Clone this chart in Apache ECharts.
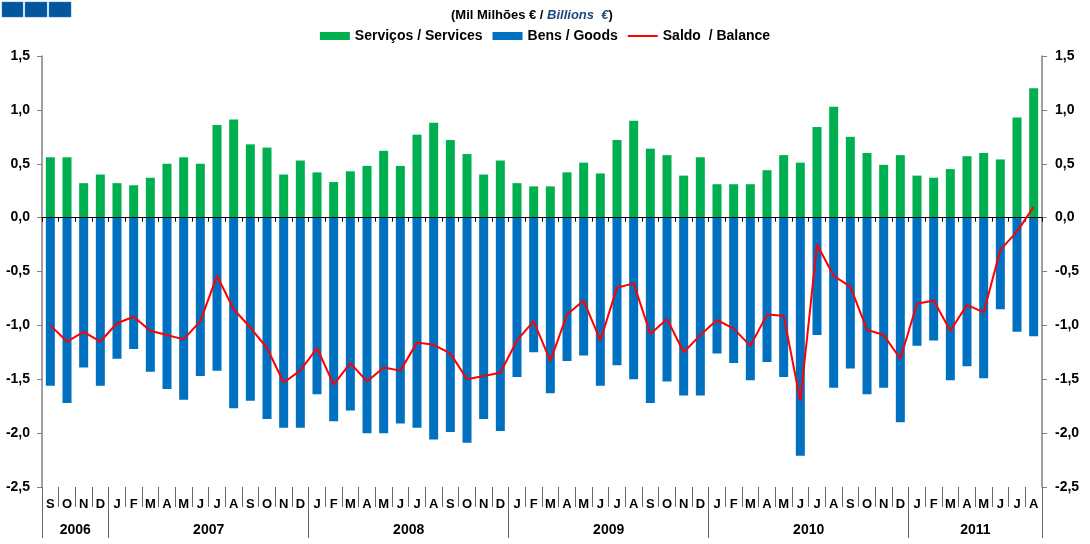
<!DOCTYPE html>
<html>
<head>
<meta charset="utf-8">
<script src="https://cdn.jsdelivr.net/npm/echarts@6/dist/echarts.min.js"></script>
<style>
  html, body { margin: 0; padding: 0; background: #fff; }
  #chart { width: 1090px; height: 544px; }
</style>
</head>
<body>
<div id="chart"></div>
<script>
// ---- Data (Mil Milhões € / Billions €) ----
const months = [
  'S','O','N','D',
  'J','F','M','A','M','J','J','A','S','O','N','D',
  'J','F','M','A','M','J','J','A','S','O','N','D',
  'J','F','M','A','M','J','J','A','S','O','N','D',
  'J','F','M','A','M','J','J','A','S','O','N','D',
  'J','F','M','A','M','J','J','A'
];
const years = [
  '2006','2006','2006','2006',
  '2007','2007','2007','2007','2007','2007','2007','2007','2007','2007','2007','2007',
  '2008','2008','2008','2008','2008','2008','2008','2008','2008','2008','2008','2008',
  '2009','2009','2009','2009','2009','2009','2009','2009','2009','2009','2009','2009',
  '2010','2010','2010','2010','2010','2010','2010','2010','2010','2010','2010','2010',
  '2011','2011','2011','2011','2011','2011','2011','2011'
];
const services = [
  0.56, 0.56, 0.32, 0.40,
  0.32, 0.30, 0.37, 0.50, 0.56, 0.50, 0.86, 0.91, 0.68, 0.65, 0.40, 0.53,
  0.42, 0.33, 0.43, 0.48, 0.62, 0.48, 0.77, 0.88, 0.72, 0.59, 0.40, 0.53,
  0.32, 0.29, 0.29, 0.42, 0.51, 0.41, 0.72, 0.90, 0.64, 0.58, 0.39, 0.56,
  0.31, 0.31, 0.31, 0.44, 0.58, 0.51, 0.84, 1.03, 0.75, 0.60, 0.49, 0.58,
  0.39, 0.37, 0.45, 0.57, 0.60, 0.54, 0.93, 1.20
];
const goods = [
  -1.56, -1.72, -1.39, -1.56,
  -1.31, -1.22, -1.43, -1.59, -1.69, -1.47, -1.42, -1.77, -1.70, -1.87, -1.95, -1.95,
  -1.64, -1.89, -1.79, -2.00, -2.00, -1.91, -1.95, -2.06, -1.99, -2.09, -1.87, -1.98,
  -1.48, -1.25, -1.63, -1.33, -1.28, -1.56, -1.37, -1.50, -1.72, -1.52, -1.65, -1.65,
  -1.26, -1.35, -1.51, -1.34, -1.48, -2.21, -1.09, -1.58, -1.40, -1.64, -1.58, -1.90,
  -1.19, -1.14, -1.51, -1.38, -1.49, -0.85, -1.06, -1.10
];
const balance = [
  -1.00, -1.15, -1.06, -1.15,
  -0.98, -0.92, -1.05, -1.09, -1.13, -0.96, -0.54, -0.85, -1.02, -1.21, -1.53, -1.42,
  -1.21, -1.55, -1.35, -1.52, -1.39, -1.42, -1.16, -1.18, -1.26, -1.50, -1.47, -1.44,
  -1.14, -0.96, -1.33, -0.90, -0.77, -1.14, -0.65, -0.61, -1.08, -0.94, -1.25, -1.09,
  -0.95, -1.03, -1.19, -0.90, -0.91, -1.70, -0.25, -0.54, -0.64, -1.04, -1.09, -1.31,
  -0.80, -0.77, -1.05, -0.81, -0.88, -0.30, -0.13, 0.10
];
const yTicks = { min: -2.5, max: 1.5, step: 0.5 };
const seriesNames = ['Serviços / Services', 'Bens / Goods', 'Saldo  / Balance'];

// ---- year spans computed from the per-month year list ----
const yearCenters = {};
(function () {
  let start = 0;
  for (let i = 1; i <= years.length; i++) {
    if (i === years.length || years[i] !== years[i - 1]) {
      yearCenters[(start + i) / 2] = years[start];
      start = i;
    }
  }
})();

const FONT = '"Liberation Sans", Arial, sans-serif';
const fmtY = v => (Math.abs(v) < 1e-9 ? 0 : v).toFixed(1).replace('.', ',');

const chart = echarts.init(document.getElementById('chart'), null, { renderer: 'canvas' });
chart.setOption({
  animation: false,
  backgroundColor: '#fff',
  textStyle: { fontFamily: FONT },
  graphic: [
    { type: 'rect', shape: { x: 2, y: 2, width: 21, height: 15 }, style: { fill: '#00579E', stroke: '#3d7fbf', lineWidth: 0.5 } },
    { type: 'rect', shape: { x: 25, y: 2, width: 22, height: 15 }, style: { fill: '#00579E', stroke: '#3d7fbf', lineWidth: 0.5 } },
    { type: 'rect', shape: { x: 49, y: 2, width: 22, height: 15 }, style: { fill: '#00579E', stroke: '#3d7fbf', lineWidth: 0.5 } }
  ],
  title: {
    text: '{a|(Mil Milhões € / }{b|Billions  €}{a|)}',
    left: 446, top: 4,
    textStyle: {
      rich: {
        a: { fontFamily: FONT, fontSize: 13, fontWeight: 'bold', color: '#000' },
        b: { fontFamily: FONT, fontSize: 13, fontWeight: 'bold', fontStyle: 'italic', color: '#1F497D' }
      }
    }
  },
  legend: {
    top: 24, left: 'center',
    itemWidth: 30, itemHeight: 8, itemGap: 10,
    textStyle: { fontFamily: FONT, fontSize: 14, fontWeight: 'bold', color: '#000' },
    data: [
      { name: seriesNames[0], icon: 'rect' },
      { name: seriesNames[1], icon: 'rect' },
      { name: seriesNames[2], icon: 'path://M0,0H30V2H0Z' }
    ]
  },
  grid: { left: 42, right: 48, top: 56, bottom: 57, containLabel: false },
  xAxis: [
    {
      type: 'category', data: months, position: 'bottom', z: 5,
      axisLine: { show: true, onZero: true, lineStyle: { color: '#000', width: 1 } },
      axisTick: { show: true, interval: 0, length: 4, lineStyle: { color: '#000' } },
      axisLabel: { show: false },
      splitLine: { show: false }
    },
    {
      type: 'category', data: months, position: 'bottom',
      axisLine: { show: false, onZero: false },
      axisTick: { show: true, interval: 0, length: 20, lineStyle: { color: '#666' } },
      axisLabel: { show: true, interval: 0, margin: 11, fontSize: 13, fontWeight: 'bold', color: '#000', fontFamily: FONT },
      splitLine: { show: false }
    },
    {
      type: 'category', data: months, position: 'bottom',
      axisLine: { show: false, onZero: false },
      axisTick: {
        show: true, length: 51, lineStyle: { color: '#666' },
        interval: (i) => i === 0 || years[i] !== years[i - 1]
      },
      axisLabel: { show: false },
      splitLine: { show: false }
    },
    {
      type: 'value', min: 0, max: months.length, interval: 1, position: 'bottom',
      axisLine: { show: false, onZero: false },
      axisTick: { show: false },
      splitLine: { show: false },
      axisLabel: {
        show: true, margin: 36, fontSize: 14, fontWeight: 'bold', color: '#000', fontFamily: FONT,
        formatter: v => yearCenters[v] || ''
      }
    }
  ],
  yAxis: [
    {
      type: 'value', position: 'left', min: yTicks.min, max: yTicks.max, interval: yTicks.step,
      axisLine: { show: true, onZero: false, lineStyle: { color: '#808080', width: 1.5 } },
      axisTick: { show: true, length: 5, lineStyle: { color: '#808080' } },
      splitLine: { show: false },
      axisLabel: { formatter: fmtY, fontSize: 14, fontWeight: 'bold', color: '#000', margin: 12, fontFamily: FONT }
    },
    {
      type: 'value', position: 'right', min: yTicks.min, max: yTicks.max, interval: yTicks.step,
      axisLine: { show: true, onZero: false, lineStyle: { color: '#808080', width: 1.5 } },
      axisTick: { show: true, length: 5, lineStyle: { color: '#808080' } },
      splitLine: { show: false },
      axisLabel: { formatter: fmtY, fontSize: 14, fontWeight: 'bold', color: '#000', margin: 13, fontFamily: FONT }
    }
  ],
  series: [
    {
      name: seriesNames[0], type: 'bar', data: services, xAxisIndex: 0, yAxisIndex: 0,
      barWidth: 9, itemStyle: { color: '#00B050' }
    },
    {
      name: seriesNames[1], type: 'bar', data: goods, xAxisIndex: 0, yAxisIndex: 0,
      barWidth: 9, barGap: '-100%', itemStyle: { color: '#0070C0' }
    },
    {
      name: seriesNames[2], type: 'line', data: balance, xAxisIndex: 0, yAxisIndex: 0,
      symbol: 'none', z: 10,
      lineStyle: { color: '#FF0000', width: 2 }, itemStyle: { color: '#FF0000' }
    }
  ]
});
</script>
</body>
</html>
